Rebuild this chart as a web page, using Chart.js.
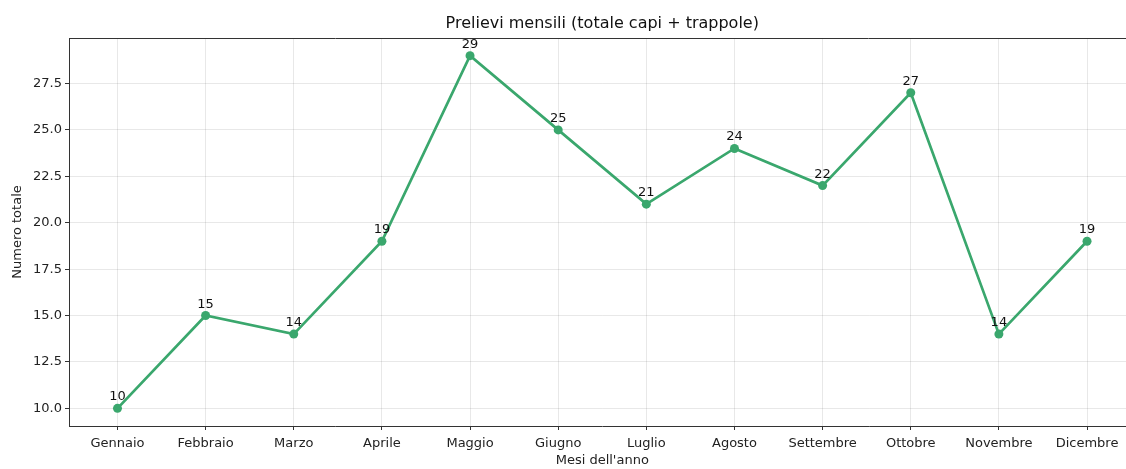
<!DOCTYPE html>
<html>
<head>
<meta charset="utf-8">
<script src="https://cdn.jsdelivr.net/npm/chart.js@4"></script>
<style>
  html, body { margin: 0; padding: 0; background: #fff; overflow: hidden; }
  #wrap { width: 1126px; height: 469px; overflow: hidden; }
</style>
</head>
<body>
<div id="wrap"><canvas id="grafico-prelievi" width="1140" height="469"></canvas></div>
<script>
// DATI
var mesi = ['Gennaio', 'Febbraio', 'Marzo', 'Aprile', 'Maggio', 'Giugno', 'Luglio', 'Agosto', 'Settembre', 'Ottobre', 'Novembre', 'Dicembre'];
var prelievi = [10, 15, 14, 19, 29, 25, 21, 24, 22, 27, 14, 19];
var tickY = [10.0, 12.5, 15.0, 17.5, 20.0, 22.5, 25.0, 27.5];

var verde = '#3aa76d';
var font = "'DejaVu Sans', sans-serif";

// titolo, bordo superiore/destro ed etichette dei punti
var pluginExtra = {
    id: 'extra',
    afterDraw: function(chart) {
        var ctx = chart.ctx;
        var area = chart.chartArea;
        ctx.save();
        ctx.strokeStyle = '#333';
        ctx.lineWidth = 1;
        ctx.beginPath();
        ctx.moveTo(area.left, area.top + 0.5);
        ctx.lineTo(area.right - 0.5, area.top + 0.5);
        ctx.lineTo(area.right - 0.5, area.bottom);
        ctx.stroke();

        ctx.fillStyle = '#111';
        ctx.font = '16px ' + font;
        ctx.textAlign = 'center';
        ctx.textBaseline = 'middle';
        ctx.fillText('Prelievi mensili (totale capi + trappole)', (area.left + area.right) / 2, 24);

        ctx.font = '13px ' + font;
        ctx.textBaseline = 'alphabetic';
        var meta = chart.getDatasetMeta(0);
        meta.data.forEach(function(pt, i) {
            ctx.fillText(String(prelievi[i]), pt.x, pt.y - 8);
        });
        ctx.restore();
    }
};

var graficoCtx = document.getElementById('grafico-prelievi').getContext('2d');

var graficoPrelievi = new Chart(graficoCtx, {
    type: 'line',
    data: {
        datasets: [{
            label: 'Prelievi',
            data: prelievi.map(function(v, i) { return { x: i, y: v }; }),
            borderColor: verde,
            backgroundColor: verde,
            borderWidth: 2.7,
            pointRadius: 4.5,
            pointHoverRadius: 4.5,
            pointBackgroundColor: verde,
            pointBorderWidth: 0,
            tension: 0
        }]
    },
    options: {
        responsive: false,
        animation: false,
        events: [],
        layout: { padding: { top: 38, right: 4, left: 0, bottom: 0 } },
        scales: {
            x: {
                type: 'linear',
                min: -0.55,
                max: 11.55,
                afterBuildTicks: function(scale) {
                    scale.ticks = mesi.map(function(m, i) { return { value: i }; });
                },
                afterFit: function(scale) {
                    scale.height = 43;
                    scale.paddingLeft = 0;
                    scale.paddingRight = 0;
                },
                ticks: {
                    autoSkip: false,
                    maxRotation: 0,
                    padding: 6,
                    color: '#222',
                    font: { family: font, size: 13 },
                    callback: function(v) { return mesi[v]; }
                },
                grid: { color: 'rgba(0,0,0,0.09)', tickColor: '#333', tickLength: 4 },
                border: { display: true, color: '#333', width: 1 },
                title: {
                    display: true,
                    text: "Mesi dell'anno",
                    color: '#222',
                    font: { family: font, size: 13 },
                    padding: { top: 0, bottom: 1 }
                }
            },
            y: {
                min: 9.05,
                max: 29.95,
                afterBuildTicks: function(scale) {
                    scale.ticks = tickY.map(function(v) { return { value: v }; });
                },
                afterFit: function(scale) { scale.width = 69; },
                ticks: {
                    padding: 3,
                    color: '#222',
                    font: { family: font, size: 13 },
                    callback: function(v) { return v.toFixed(1); }
                },
                grid: { color: 'rgba(0,0,0,0.09)', tickColor: '#333', tickLength: 4 },
                border: { display: true, color: '#333', width: 1 },
                title: {
                    display: true,
                    text: 'Numero totale',
                    color: '#222',
                    font: { family: font, size: 13 },
                    padding: { top: 10, bottom: 0 }
                }
            }
        },
        plugins: {
            legend: { display: false },
            tooltip: { enabled: false },
            title: { display: false }
        }
    },
    plugins: [pluginExtra]
});
</script>
</body>
</html>
